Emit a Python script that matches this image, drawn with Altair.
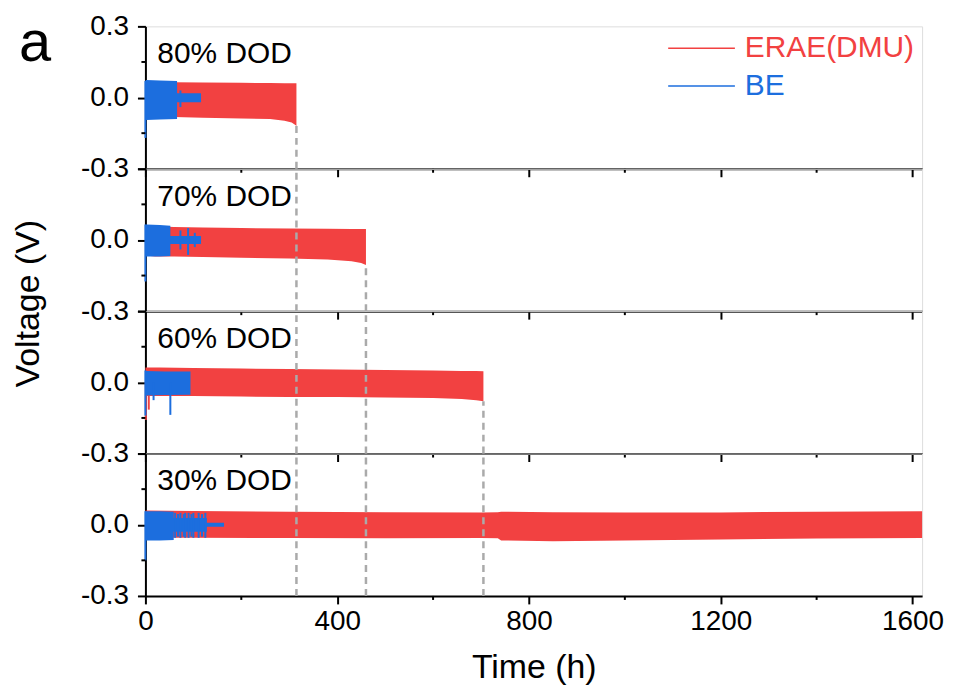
import altair as alt
import pandas as pd

# ---------------- data ----------------
panel_names = ["80% DOD", "70% DOD", "60% DOD", "30% DOD"]
series_names = ["ERAE(DMU)", "BE"]
series_colors = ["#F24141", "#1C6EDE"]

# ERAE(DMU) envelopes (time h, upper V, lower V)
red80_t = [0, 3, 20, 60, 120, 200, 260, 290, 305, 312, 315]
red80_hi = [0.065, 0.068, 0.067, 0.065, 0.063, 0.062, 0.061, 0.060, 0.060, 0.060, 0.060]
red80_lo = [-0.080, -0.080, -0.080, -0.082, -0.085, -0.088, -0.090, -0.098, -0.105, -0.115, -0.120]

red70_t = [0, 20, 60, 120, 200, 300, 380, 430, 450, 460]
red70_hi = [0.060, 0.058, 0.055, 0.052, 0.050, 0.048, 0.047, 0.046, 0.046, 0.046]
red70_lo = [-0.065, -0.070, -0.070, -0.072, -0.075, -0.078, -0.082, -0.090, -0.097, -0.105]

red60_t = [0, 30, 100, 200, 300, 400, 500, 600, 660, 690, 705]
red60_hi = [0.063, 0.063, 0.060, 0.058, 0.056, 0.054, 0.052, 0.050, 0.048, 0.048, 0.047]
red60_lo = [-0.058, -0.058, -0.058, -0.060, -0.062, -0.062, -0.064, -0.066, -0.070, -0.075, -0.080]

red30_t = [0, 100, 300, 500, 700, 735, 742, 850, 1000, 1200, 1400, 1620]
red30_hi = [0.060, 0.058, 0.055, 0.053, 0.052, 0.053, 0.055, 0.053, 0.052, 0.052, 0.055, 0.057]
red30_lo = [-0.055, -0.055, -0.056, -0.057, -0.056, -0.057, -0.066, -0.070, -0.066, -0.062, -0.058, -0.056]

# BE envelopes
blue80_t = [0, 2, 30, 66, 66.1, 116]
blue80_hi = [0.072, 0.074, 0.072, 0.070, 0.018, 0.018]
blue80_lo = [-0.095, -0.095, -0.092, -0.090, -0.020, -0.020]

blue70_t = [0, 2, 30, 52, 52.1, 116]
blue70_hi = [0.065, 0.065, 0.063, 0.060, 0.017, 0.017]
blue70_lo = [-0.070, -0.070, -0.070, -0.068, -0.017, -0.017]

blue60_t = [0, 2, 40, 94]
blue60_hi = [0.050, 0.048, 0.046, 0.046]
blue60_lo = [-0.055, -0.055, -0.053, -0.052]

blue30_t = [0, 2, 30, 59, 59.1, 128, 128.1, 164]
blue30_hi = [0.057, 0.057, 0.057, 0.055, 0.028, 0.028, 0.008, 0.008]
blue30_lo = [-0.066, -0.066, -0.066, -0.064, -0.030, -0.030, -0.008, -0.008]

# BE stripes / spikes (time, low, high)
blue_str80_t = [0, 73]
blue_str80_lo = [-0.170, -0.040]
blue_str80_hi = [0.070, 0.030]

blue_str70_t = [0, 73, 89, 103]
blue_str70_lo = [-0.175, -0.040, -0.063, -0.030]
blue_str70_hi = [0.065, 0.040, 0.050, 0.030]

blue_str60_t = [0, 17, 52]
blue_str60_lo = [-0.140, -0.075, -0.137]
blue_str60_hi = [0.050, 0.0, 0.0]

blue_str30_t = [0, 62, 68, 73, 80, 83, 90, 96, 100, 111, 118, 125]
blue_str30_lo = [-0.150, -0.055, -0.050, -0.055, -0.050, -0.055, -0.055, -0.050, -0.055, -0.055, -0.050, -0.055]
blue_str30_hi = [0.057, 0.050, 0.045, 0.050, 0.045, 0.050, 0.050, 0.045, 0.050, 0.050, 0.045, 0.050]

# ERAE spikes near t=0
red_str60_t = [1, 7]
red_str60_lo = [-0.158, -0.115]
red_str60_hi = [0.0, 0.0]

# end of cycling for 80/70/60 % DOD (dashed guides)
end_t = [315, 460, 705]
end_lo = [-0.120, -0.105, -0.080]

x_ticks = [0, 400, 800, 1200, 1600]
x_minor = [200, 600, 1000, 1400]
y_ticks = [-0.3, 0.0, 0.3]
y_tick_text = ["-0.3", "0.0", "0.3"]
y_minor = [-0.15, 0.15]

red_env = [(red80_t, red80_hi, red80_lo), (red70_t, red70_hi, red70_lo),
           (red60_t, red60_hi, red60_lo), (red30_t, red30_hi, red30_lo)]
blue_env = [(blue80_t, blue80_hi, blue80_lo), (blue70_t, blue70_hi, blue70_lo),
            (blue60_t, blue60_hi, blue60_lo), (blue30_t, blue30_hi, blue30_lo)]
blue_str = [(blue_str80_t, blue_str80_lo, blue_str80_hi), (blue_str70_t, blue_str70_lo, blue_str70_hi),
            (blue_str60_t, blue_str60_lo, blue_str60_hi), (blue_str30_t, blue_str30_lo, blue_str30_hi)]
red_str = [None, None, (red_str60_t, red_str60_lo, red_str60_hi), None]

# ---------------- chart ----------------
FONT = "Liberation Sans"
W, H = 780, 143
RED, BLUE = series_colors
xs = alt.Scale(domain=[0, 1620], nice=False, zero=False)
ys = alt.Scale(domain=[-0.3, 0.3], nice=False, zero=False)


def label_expr(show_top):
    top = y_tick_text[2] if show_top else ""
    return (f"datum.value < -0.15 ? '{y_tick_text[0]}' : "
            f"(datum.value > 0.15 ? '{top}' : '{y_tick_text[1]}')")


def make_panel(i):
    last = i == 3
    xaxis_kw = dict(values=x_ticks, format="d", tickSize=8, tickWidth=2, tickColor="black",
                    domainWidth=2, domainColor="black", grid=False, labelFont=FONT,
                    labelFontSize=28, labelColor="black", labelPadding=4,
                    labels=last, labelFlush=False, labelOverlap=False)
    if last:
        xaxis = alt.Axis(title="Time (h)", titleFont=FONT, titleFontSize=34,
                         titleFontWeight="normal", titleColor="black", titlePadding=15, **xaxis_kw)
    else:
        xaxis = alt.Axis(title=None, **xaxis_kw)
    yaxis_kw = dict(values=y_ticks, labelExpr=label_expr(i == 0), tickSize=8, tickWidth=2,
                    tickColor="black", domainWidth=2, domainColor="black", grid=False,
                    labelFont=FONT, labelFontSize=28, labelColor="black", labelPadding=9,
                    labelOverlap=False, labelFlush=False, minExtent=66, maxExtent=66)
    if i == 1:
        yaxis = alt.Axis(title="Voltage (V)", titleFont=FONT, titleFontSize=34,
                         titleFontWeight="normal", titleColor="black", titlePadding=34,
                         titleY=135, **yaxis_kw)
    else:
        yaxis = alt.Axis(title=None, **yaxis_kw)

    X = lambda f: alt.X(f, scale=xs, axis=xaxis)
    Y = lambda f: alt.Y(f, scale=ys, axis=yaxis)

    rt, rh, rl = red_env[i]
    red_df = pd.DataFrame({"t": rt, "hi": rh, "lo": rl})
    bt, bh, bl = blue_env[i]
    blue_df = pd.DataFrame({"t": bt, "hi": bh, "lo": bl})
    st, sl, sh = blue_str[i]
    bstr_df = pd.DataFrame({"t": st, "lo": sl, "hi": sh})

    layers = []
    layers.append(alt.Chart(red_df).mark_area(color=RED, opacity=1, strokeWidth=0)
                  .encode(x=X("t:Q"), y=Y("hi:Q"), y2="lo:Q"))
    if red_str[i] is not None:
        rst, rsl, rsh = red_str[i]
        layers.append(alt.Chart(pd.DataFrame({"t": rst, "lo": rsl, "hi": rsh}))
                      .mark_rule(color=RED, strokeWidth=2)
                      .encode(x=X("t:Q"), y=Y("lo:Q"), y2="hi:Q"))
    layers.append(alt.Chart(blue_df).mark_area(color=BLUE, opacity=1, strokeWidth=0)
                  .encode(x=X("t:Q"), y=Y("hi:Q"), y2="lo:Q"))
    layers.append(alt.Chart(bstr_df).mark_rule(color=BLUE, strokeWidth=2)
                  .encode(x=X("t:Q"), y=Y("lo:Q"), y2="hi:Q"))

    # dashed guides
    g_t, g_lo, g_hi = [], [], []
    for j in range(3):
        if j == i:
            g_t.append(end_t[j]); g_lo.append(-0.3); g_hi.append(end_lo[j])
        elif j < i:
            g_t.append(end_t[j]); g_lo.append(-0.3); g_hi.append(0.3)
    if g_t:
        layers.append(alt.Chart(pd.DataFrame({"t": g_t, "lo": g_lo, "hi": g_hi}))
                      .mark_rule(color="#AAAAAA", strokeWidth=2.5, strokeDash=[7, 5])
                      .encode(x=X("t:Q"), y=Y("lo:Q"), y2="hi:Q"))

    # minor ticks
    layers.append(alt.Chart(pd.DataFrame({"t": x_minor})).mark_rule(color="black", strokeWidth=2)
                  .encode(x=X("t:Q"), y=alt.value(H), y2=alt.value(H + 4)))
    layers.append(alt.Chart(pd.DataFrame({"hi": y_minor})).mark_rule(color="black", strokeWidth=2)
                  .encode(y=Y("hi:Q"), x=alt.value(0), x2=alt.value(-4)))

    # panel label
    layers.append(alt.Chart(pd.DataFrame({"name": [panel_names[i]]}))
                  .mark_text(font=FONT, fontSize=30, align="left", baseline="alphabetic", color="black")
                  .encode(text="name:N", x=alt.value(12), y=alt.value(37)))

    if i == 0:
        # legend
        for k, (nm, col) in enumerate(zip(series_names, series_colors)):
            ly = 22 + 38 * k
            layers.append(alt.Chart(pd.DataFrame({"name": [nm]})).mark_rule(color=col, strokeWidth=1.5)
                          .encode(x=alt.value(525), x2=alt.value(592), y=alt.value(ly)))
            layers.append(alt.Chart(pd.DataFrame({"name": [nm]}))
                          .mark_text(font=FONT, fontSize=30, align="left", baseline="middle", color=col)
                          .encode(text="name:N", x=alt.value(602), y=alt.value(ly)))
        layers.append(alt.Chart(pd.DataFrame({"name": ["a"]}))
                      .mark_text(font=FONT, fontSize=58, align="left", baseline="middle", color="black")
                      .encode(text="name:N", x=alt.value(-127), y=alt.value(18)))

    return alt.layer(*layers).properties(width=W, height=H)


chart = alt.vconcat(*[make_panel(i) for i in range(4)], spacing=0).properties(
    bounds="flush",
    padding={"left": 3, "top": 2, "right": 0, "bottom": 0},
).configure_view(stroke="black", strokeWidth=2).configure(font=FONT)

chart.save("out.html", embed_options={"renderer": "svg", "actions": False})
